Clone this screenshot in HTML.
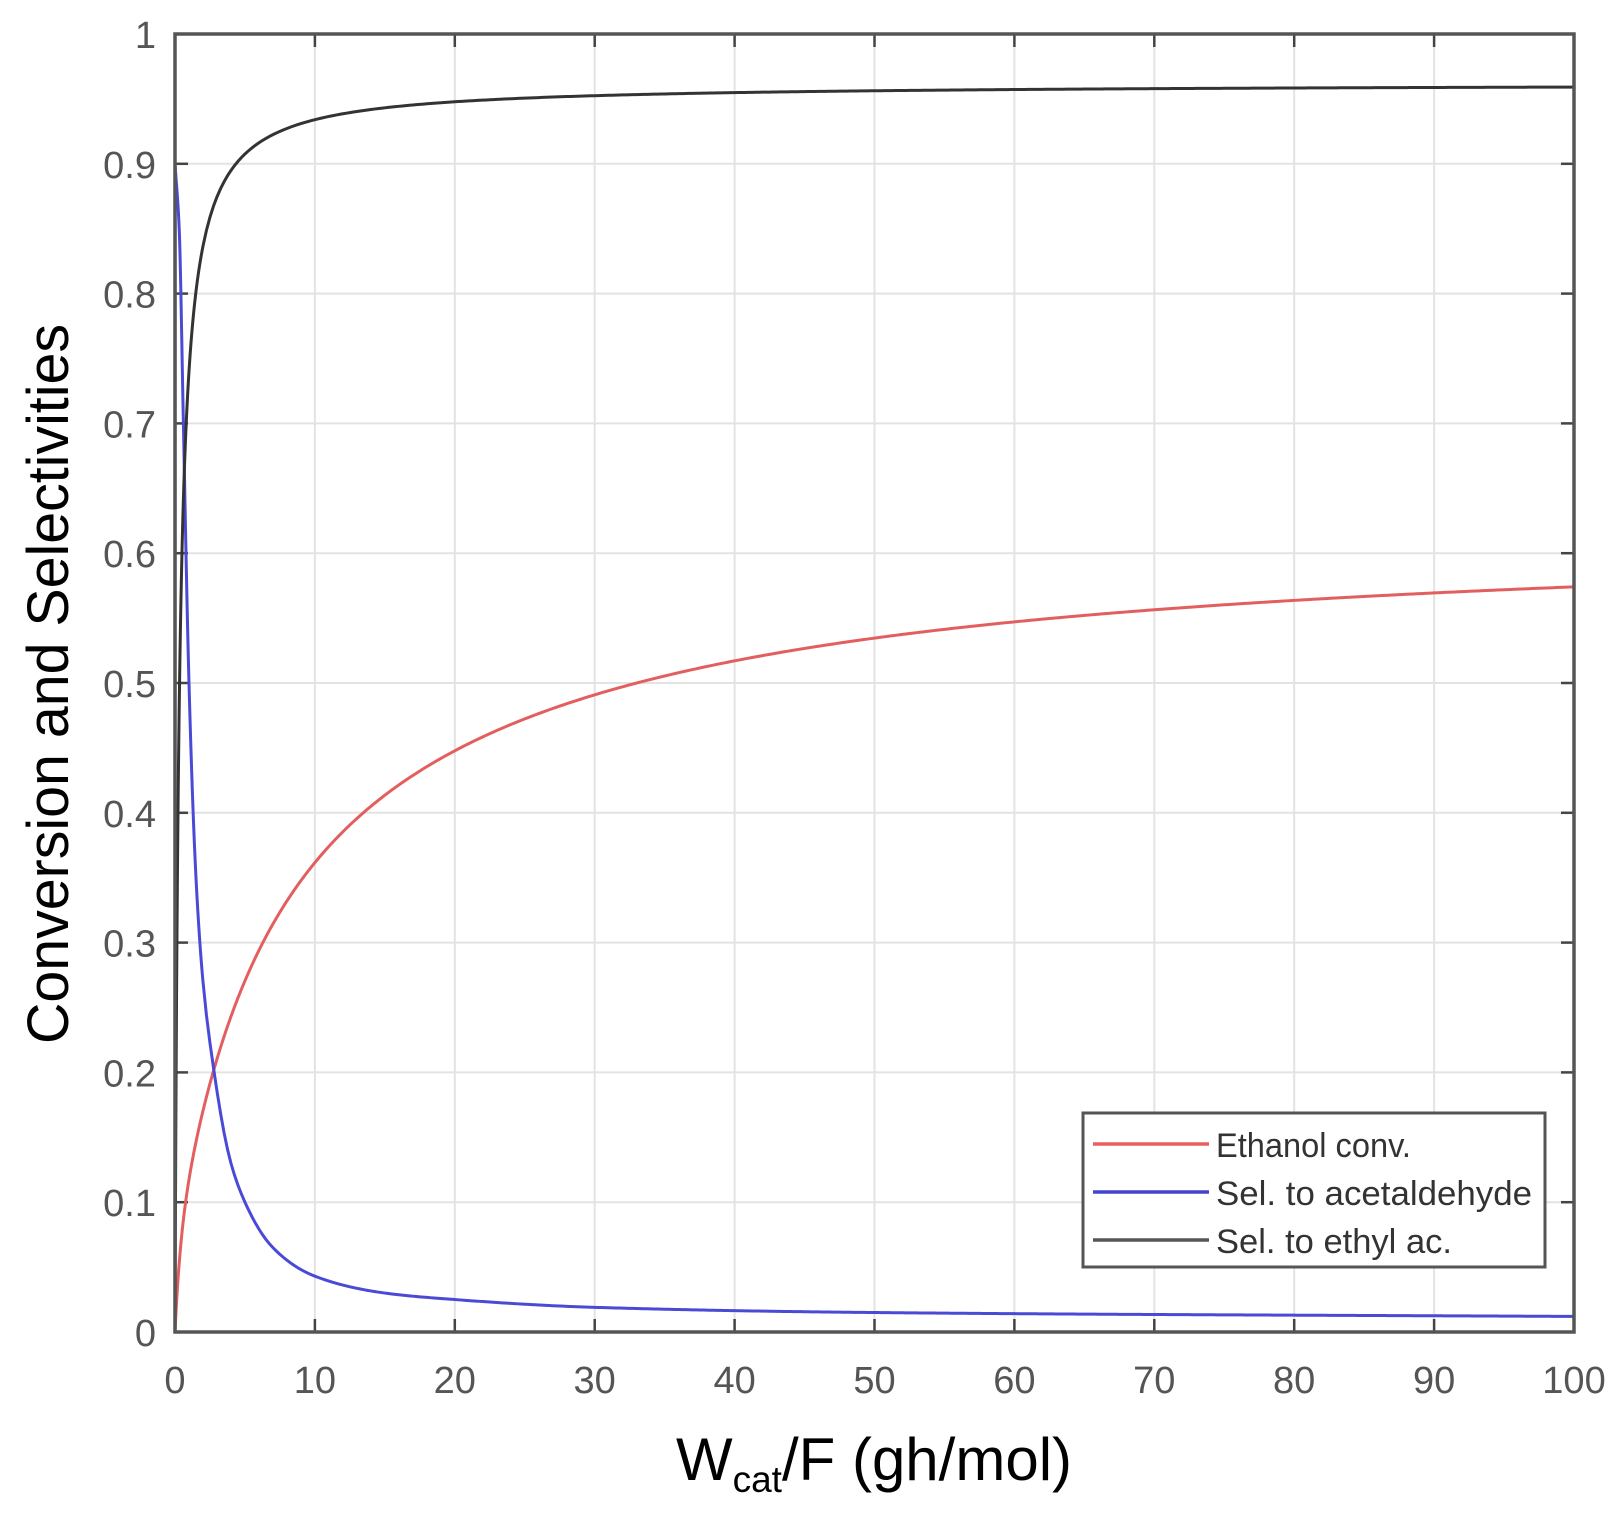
<!DOCTYPE html>
<html><head><meta charset="utf-8"><style>
html,body{margin:0;padding:0;background:#fff;}
svg{display:block;}
text{font-family:"Liberation Sans",sans-serif;}
</style></head><body>
<svg id="s" width="1612" height="1520" viewBox="0 0 1612 1520" xmlns="http://www.w3.org/2000/svg">
<rect width="1612" height="1520" fill="#fff"/>
<g id="grid" stroke="#e3e3e3" stroke-width="2"></g>
<g id="ticks" stroke="#444" stroke-width="2.5"></g>
<g id="curves" fill="none" stroke-width="3"></g>
<rect x="175" y="34" width="1399" height="1298" fill="none" stroke="#555" stroke-width="3.5"/>
<g id="labels" fill="#555" font-size="38"></g>
<text x="874" y="1480" font-size="60" text-anchor="middle" fill="#000">W<tspan font-size="37" dy="12">cat</tspan><tspan dy="-12">/F (gh/mol)</tspan></text>
<text transform="translate(68,684) rotate(-90)" font-size="58" text-anchor="middle" fill="#000" textLength="720" lengthAdjust="spacingAndGlyphs">Conversion and Selectivities</text>
<g>
<rect x="1083" y="1113" width="462" height="154" fill="#fff" stroke="#555" stroke-width="3"/>
<line x1="1093" y1="1144" x2="1209" y2="1144" stroke="#e86060" stroke-width="3.5"/>
<line x1="1093" y1="1192" x2="1209" y2="1192" stroke="#4444cc" stroke-width="3.5"/>
<line x1="1093" y1="1240" x2="1209" y2="1240" stroke="#555" stroke-width="3.5"/>
<g font-size="34" fill="#333">
<text x="1216" y="1157" textLength="195" lengthAdjust="spacingAndGlyphs">Ethanol conv.</text>
<text x="1216" y="1205" textLength="316" lengthAdjust="spacingAndGlyphs">Sel. to acetaldehyde</text>
<text x="1216" y="1253" textLength="236" lengthAdjust="spacingAndGlyphs">Sel. to ethyl ac.</text>
</g>
</g>
</svg>
<script>
var NS="http://www.w3.org/2000/svg";
var L=175,R=1574,T=34,B=1332;
function X(v){return L+(R-L)*v/100;}
function Y(v){return B-(B-T)*v;}
function el(p,tag,a,txt){var e=document.createElementNS(NS,tag);for(var k in a)e.setAttribute(k,a[k]);if(txt!=null)e.textContent=txt;document.getElementById(p).appendChild(e);return e;}
for(var i=1;i<10;i++){el("grid","line",{x1:X(i*10),x2:X(i*10),y1:T,y2:B});}
for(var j=1;j<10;j++){el("grid","line",{x1:L,x2:R,y1:Y(j/10),y2:Y(j/10)});}
for(var i=0;i<=10;i++){var x=X(i*10);el("ticks","line",{x1:x,x2:x,y1:B,y2:B-13});el("ticks","line",{x1:x,x2:x,y1:T,y2:T+13});
 el("labels","text",{x:x,y:1393,"text-anchor":"middle"},String(i*10));}
for(var j=0;j<=10;j++){var y=Y(j/10);el("ticks","line",{x1:L,x2:L+13,y1:y,y2:y});el("ticks","line",{x1:R,x2:R-13,y1:y,y2:y});
 el("labels","text",{x:156,y:y+14,"text-anchor":"end"},j==0?"0":j==10?"1":(j/10).toFixed(1));}
function path(f,col){var d="M"+X(0)+","+Y(0);var xs=[];for(var x=0.01;x<2;x+=0.02)xs.push(x);for(var x=2;x<=100;x+=0.25)xs.push(x);
 xs.forEach(function(x){d+=" L"+X(x).toFixed(2)+","+Y(f(x)).toFixed(2);});el("curves","path",{d:d,stroke:col});}
var bp=[[0,0.9],[0.3,0.85],[0.6,0.7],[1,0.5],[1.5,0.35],[2,0.27],[2.8,0.2],[4,0.13],[5,0.1],[7,0.065],[10,0.043],[15,0.03],[20,0.025],[30,0.019],[50,0.015],[100,0.012]];
// monotone cubic (Fritsch-Carlson) on log y
var n=bp.length,xs=bp.map(function(p){return p[0];}),ys=bp.map(function(p){return Math.log(p[1]);});
var dl=[],m=[];for(var i=0;i<n-1;i++)dl.push((ys[i+1]-ys[i])/(xs[i+1]-xs[i]));
m[0]=dl[0];m[n-1]=dl[n-2];for(var i=1;i<n-1;i++){if(dl[i-1]*dl[i]<=0)m[i]=0;else{var w1=2*(xs[i+1]-xs[i])+(xs[i]-xs[i-1]),w2=(xs[i+1]-xs[i])+2*(xs[i]-xs[i-1]);m[i]=(w1+w2)/(w1/dl[i-1]+w2/dl[i]);}}
function interp(x){for(var i=1;i<n;i++){if(x<=xs[i]){var h=xs[i]-xs[i-1],t=(x-xs[i-1])/h;var t2=t*t,t3=t2*t;
 var v=(2*t3-3*t2+1)*ys[i-1]+(t3-2*t2+t)*h*m[i-1]+(-2*t3+3*t2)*ys[i]+(t3-t2)*h*m[i];return Math.exp(v);}}return Math.exp(ys[n-1]);}
path(function(x){return 0.62*x/(x+8)+0.06*(1-Math.exp(-x/0.4))*Math.exp(-x/8);},"#e35f5f");
path(interp,"#4a4ad6");
path(function(x){return 0.962*x/(x+0.3);},"#333");
</script>
</body></html>
